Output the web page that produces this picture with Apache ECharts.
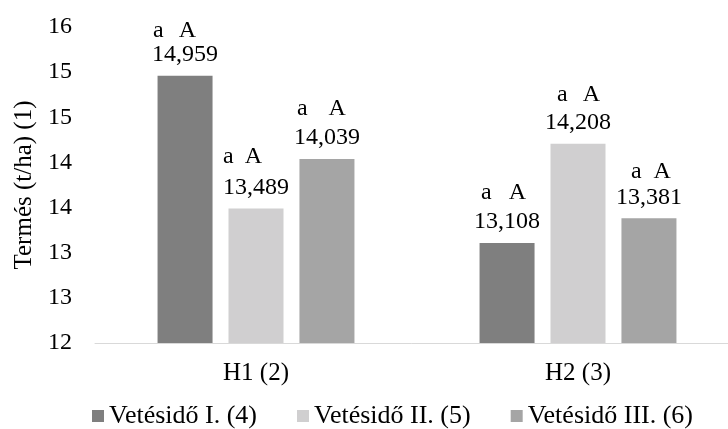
<!DOCTYPE html>
<html>
<head>
<meta charset="utf-8">
<script src="https://cdn.jsdelivr.net/npm/echarts@6/dist/echarts.min.js"></script>
<style>
  html, body { margin: 0; padding: 0; background: #fff; }
  #chart { width: 728px; height: 429px; }
</style>
</head>
<body>
<div id="chart"></div>
<script>
// Yield per hybrid and sowing date
const categories = ['H1 (2)', 'H2 (3)'];
const seriesNames = ['Vetésidő I. (4)', 'Vetésidő II. (5)', 'Vetésidő III. (6)'];
const sowing1 = [14.959, 13.108];
const sowing2 = [13.489, 14.208];
const sowing3 = [14.039, 13.381];
// significance letters shown above each bar (lower / upper case groups)
const lowerLetters = [['a', 'a'], ['a', 'a'], ['a', 'a']];
const upperLetters = [['A', 'A'], ['A', 'A'], ['A', 'A']];
// y-axis tick labels as printed (values rounded to whole numbers)
const yTickLabels = ['12', '13', '13', '14', '14', '15', '15', '16'];

const colors = ['#7f7f7f', '#d0cfd0', '#a5a5a5'];
const font = '"Liberation Serif", "Times New Roman", serif';

// per-label layout of the letter line: indent from block left, gap between letters, line height
const letterIndent = [[1, 7], [0, 12], [3, 15]];
const letterGap = [[15, 17], [11, 15], [21, 12]];
const letterLineHeight = [[25, 34], [38, 32], [34, 28]];

const values = [sowing1, sowing2, sowing3];

const series = values.map((vals, s) => {
  const rich = { v: { fontSize: 24, lineHeight: 24, fontFamily: font, color: '#000' } };
  vals.forEach((_, i) => {
    const base = { fontSize: 24, fontFamily: font, color: '#000', align: 'left',
      lineHeight: letterLineHeight[s][i] };
    rich['lo' + i] = Object.assign({}, base, { padding: [0, 0, 0, letterIndent[s][i]] });
    rich['up' + i] = Object.assign({}, base, { padding: [0, 0, 0, letterGap[s][i]] });
  });
  return {
    name: seriesNames[s],
    type: 'bar',
    data: vals,
    barWidth: 55,
    barGap: '29%',
    itemStyle: { color: colors[s] },
    label: {
      show: true,
      position: 'top',
      distance: 9,
      color: '#000',
      fontFamily: font,
      fontSize: 24,
      rich: rich,
      formatter: p => '{lo' + p.dataIndex + '|' + lowerLetters[s][p.dataIndex] + '}' +
        '{up' + p.dataIndex + '|' + upperLetters[s][p.dataIndex] + '}\n' +
        '{v|' + p.value.toFixed(3).replace('.', ',') + '}'
    }
  };
});

const chart = echarts.init(document.getElementById('chart'));
chart.setOption({
  animation: false,
  backgroundColor: '#fff',
  textStyle: { fontFamily: font },
  grid: {
    left: 95, width: 644, top: 27, bottom: 86,
    containLabel: false, outerBoundsMode: 'none'
  },
  legend: {
    bottom: 0,
    left: 92,
    padding: 0,
    itemWidth: 12,
    itemHeight: 12,
    itemGap: 40,
    icon: 'rect',
    textStyle: { fontFamily: font, fontSize: 26, color: '#000' },
    data: seriesNames
  },
  xAxis: {
    type: 'category',
    data: categories,
    axisLine: { lineStyle: { color: '#d9d9d9', width: 1 } },
    axisTick: { show: false },
    axisLabel: { color: '#000', fontFamily: font, fontSize: 25, margin: 18 }
  },
  yAxis: {
    type: 'value',
    min: 12,
    max: 15.5,
    interval: 0.5,
    name: 'Termés (t/ha) (1)',
    nameLocation: 'middle',
    nameGap: 57,
    nameTextStyle: { color: '#000', fontFamily: font, fontSize: 25 },
    axisLine: { show: false },
    axisTick: { show: false },
    splitLine: { show: false },
    axisLabel: {
      color: '#000', fontFamily: font, fontSize: 24, margin: 23,
      formatter: (v, i) => yTickLabels[i]
    }
  },
  series: series
});
</script>
</body>
</html>
